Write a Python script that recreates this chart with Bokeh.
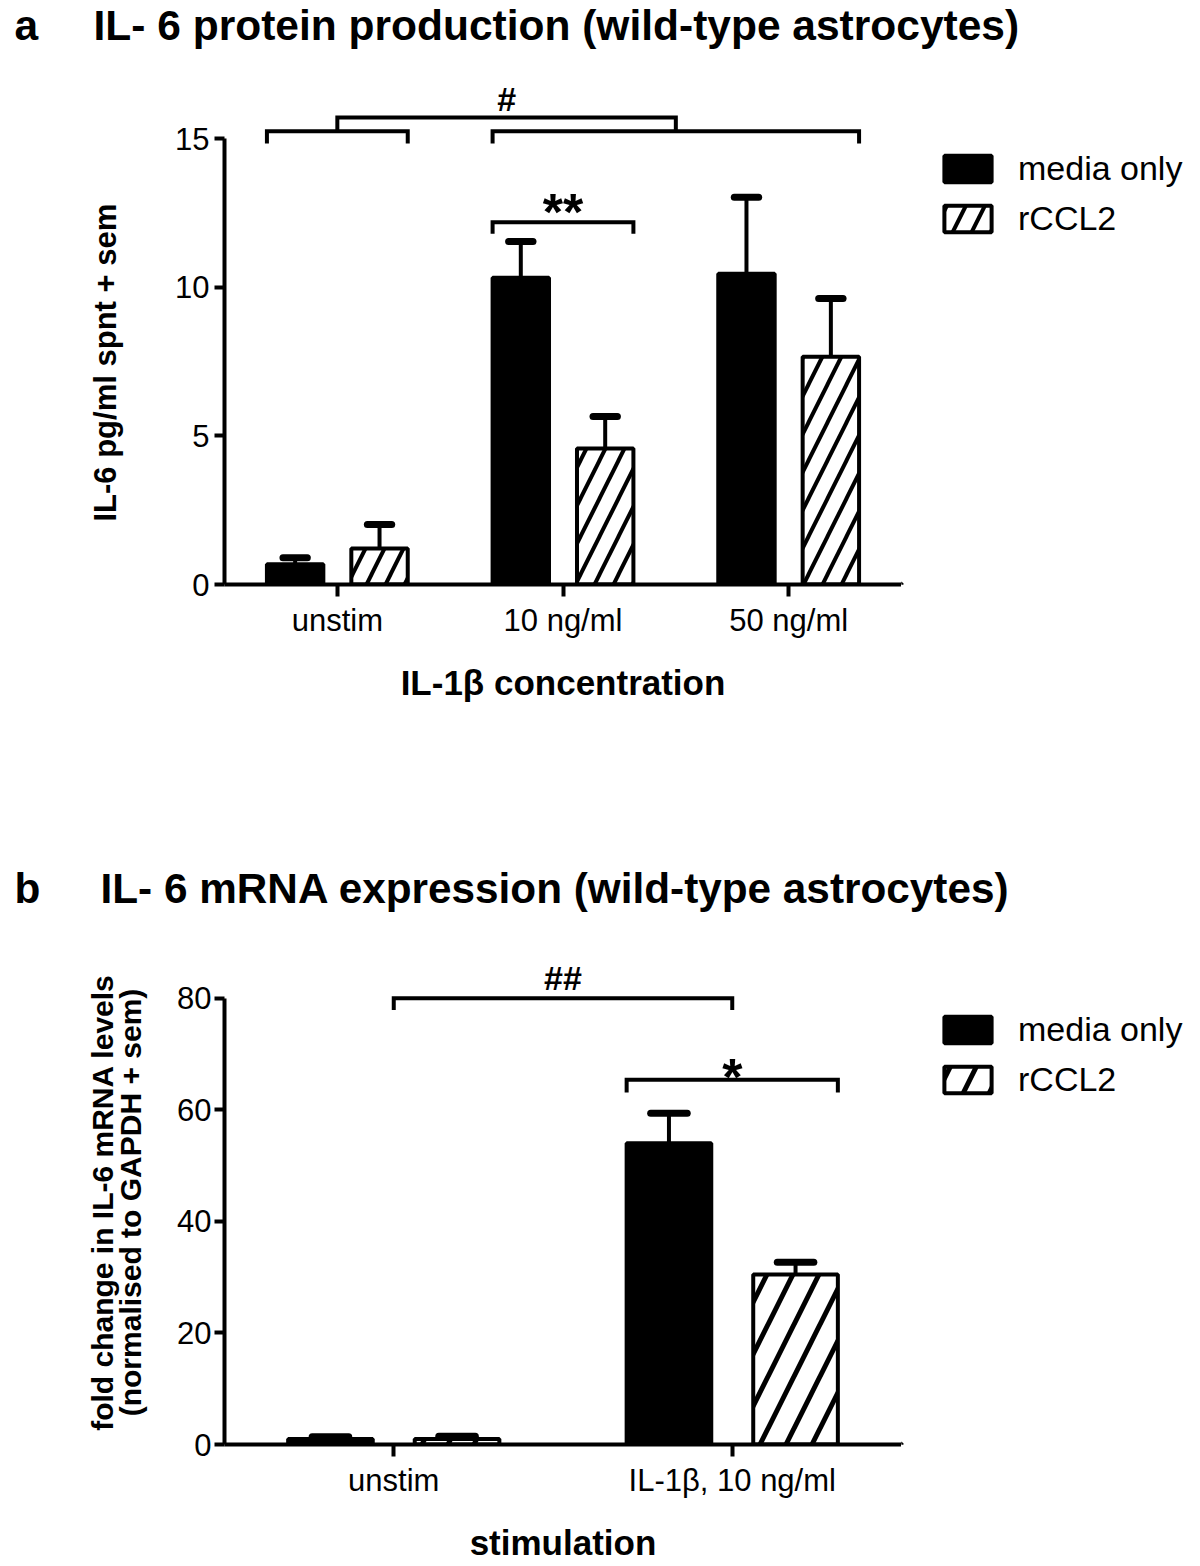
import math
from bokeh.plotting import figure
from bokeh.models import (Range1d, FactorRange, FixedTicker, ColumnDataSource, Label,
                          Legend, LegendItem)
from bokeh.transform import dodge
from bokeh.layouts import column, row
from bokeh.embed import file_html
from bokeh.resources import INLINE
from bokeh.core.properties import value

FONT = "Liberation Sans"
NB = "\u00a0"

# ---------------- data: panel a ----------------
a_title = "IL- 6 protein production (wild-type astrocytes)"
a_cats = ["unstim", "10 ng/ml", "50 ng/ml"]
a_media = [0.68, 10.32, 10.45]
a_media_sem = [0.22, 1.22, 2.57]
a_rccl2 = [1.21, 4.57, 7.66]
a_rccl2_sem = [0.81, 1.08, 1.96]
a_yticks = [0, 5, 10, 15]
a_ylabel = "IL-6 pg/ml spnt + sem"
a_xlabel = "IL-1β concentration"

# ---------------- data: panel b ----------------
b_title = "IL- 6 mRNA expression (wild-type astrocytes)"
b_cats = ["unstim", "IL-1β, 10 ng/ml"]
b_media = [1.0, 54.0]
b_media_sem = [0.4, 5.4]
b_rccl2 = [1.0, 30.5]
b_rccl2_sem = [0.5, 2.2]
b_yticks = [0, 20, 40, 60, 80]
b_ylabel = ["fold change in IL-6 mRNA levels", "(normalised to GAPDH + sem)"]
b_xlabel = "stimulation"

series = ["media only", "rCCL2"]

# significance marks
a_sig_hash = "#"
a_sig_star = "**"
b_sig_hash = "##"
b_sig_star = "*"

OFF = 0.187   # dodge of each series from category centre
W = 0.25      # bar width
CAP = 0.054   # half width of error caps
SHIFT = 0.35  # baseline correction (fraction of font size)


def blank_fig(width, height):
    p = figure(width=width, height=height, x_range=Range1d(0, width),
               y_range=Range1d(0, height), output_backend="svg",
               toolbar_location=None, x_axis_type=None, y_axis_type=None, min_border=0,
               min_border_left=0, min_border_right=0, min_border_top=0,
               min_border_bottom=0)
    p.outline_line_color = None
    p.background_fill_color = "white"
    p.border_fill_color = "white"
    return p


def style_axes(p, yticks, y_standoff):
    p.xgrid.visible = False
    p.ygrid.visible = False
    p.outline_line_color = None
    p.background_fill_color = "white"
    p.border_fill_color = "white"
    for ax in (p.xaxis[0], p.yaxis[0]):
        ax.axis_line_width = 4
        ax.axis_line_color = "black"
        ax.major_tick_line_width = 4
        ax.major_tick_line_color = "black"
        ax.major_tick_in = 0
        ax.minor_tick_line_color = None
        ax.major_label_text_font = FONT
        ax.major_label_text_font_size = "31px"
        ax.major_label_text_color = "black"
        ax.axis_label_text_font = FONT
        ax.axis_label_text_font_style = "bold"
        ax.axis_label_text_color = "black"
    p.yaxis.major_tick_out = 10
    p.yaxis.major_label_standoff = y_standoff
    p.xaxis.major_tick_out = 12
    p.xaxis.major_label_standoff = 6
    p.yaxis.ticker = FixedTicker(ticks=yticks)
    p.yaxis.bounds = (0, yticks[-1])


def bar_styles(hatch_scale, hatch_weight):
    solid = dict(fill_color="black", line_color="black", line_width=4)
    hatch = dict(fill_color="white", line_color="black", line_width=4,
                 hatch_pattern="/", hatch_color="black", hatch_scale=hatch_scale,
                 hatch_weight=hatch_weight)
    return solid, hatch


def draw_bars(p, cats, media, media_sem, rccl2, rccl2_sem, styles):
    for vals, sems, off, st in ((media, media_sem, -OFF, styles[0]),
                                (rccl2, rccl2_sem, OFF, styles[1])):
        src = ColumnDataSource(dict(cat=cats, val=vals,
                                    top=[v + s for v, s in zip(vals, sems)]))
        p.segment(x0=dodge("cat", off, range=p.x_range), y0="val",
                  x1=dodge("cat", off, range=p.x_range), y1="top",
                  source=src, line_color="black", line_width=4)
        p.segment(x0=dodge("cat", off - CAP, range=p.x_range), y0="top",
                  x1=dodge("cat", off + CAP, range=p.x_range), y1="top",
                  source=src, line_color="black", line_width=7, line_cap="round")
        p.vbar(x=dodge("cat", off, range=p.x_range), top="val", width=W, source=src, **st)


def bracket(p, x0, x1, y, drop):
    p.multi_line(xs=[[x0, x0, x1, x1]], ys=[[y - drop, y, y, y - drop]],
                 line_color="black", line_width=4, line_join="miter")


def add_text(p, x, y, txt, size, extra=0):
    p.text(x=[x], y=[y], text=[txt], text_font=value(FONT), text_font_style="bold",
           text_font_size=f"{size}px", text_align="center", text_baseline="alphabetic",
           text_color="black", y_offset=-SHIFT * size - extra)


def legend_fig(width, height, styles, lx, ly):
    p = blank_fig(width, height)
    # key swatches for the legend (drawn outside the visible area)
    r1 = p.vbar(x=[-1000], top=[1], width=1, **styles[0])
    r2 = p.vbar(x=[-1000], top=[1], width=1, **styles[1])
    legend = Legend(items=[LegendItem(label=value(series[0]), renderers=[r1]),
                           LegendItem(label=value(series[1]), renderers=[r2])],
                    location=(lx, ly), orientation="vertical",
                    glyph_width=59, glyph_height=33,
                    label_text_font=FONT, label_text_font_size="34px",
                    label_text_color="black", label_standoff=21, spacing=11,
                    padding=0, margin=0, border_line_color=None,
                    background_fill_alpha=0)
    p.add_layout(legend)
    return p


def title_fig(width, height, letter, txt, baseline_from_bottom, title_x, size):
    p = blank_fig(width, height)
    for x, t in ((14, letter), (title_x, txt)):
        p.add_layout(Label(x=x, y=baseline_from_bottom + SHIFT * size, x_units="screen",
                           y_units="screen", text=t, text_font=FONT,
                           text_font_size=f"{size}px", text_font_style="bold",
                           text_baseline="alphabetic", text_color="black"))
    return p


def edges(i):
    c = i + 0.5
    return c - OFF - W / 2, c + OFF + W / 2


# ---------------- panel a ----------------
A_PX = 446 / 15.0
styles_a = bar_styles(38, 4)
ta = title_fig(1200, 80, "a", a_title, 40, 93, 42.5)

pa = figure(width=901, height=640, x_range=FactorRange(factors=a_cats),
            y_range=Range1d(0, 504 / A_PX), output_backend="svg", toolbar_location=None,
            min_border_left=224, min_border_right=0, min_border_top=0,
            min_border_bottom=136)
style_axes(pa, a_yticks, 5)
draw_bars(pa, a_cats, a_media, a_media_sem, a_rccl2, a_rccl2_sem, styles_a)

l0, r0 = edges(0)
l1, _ = edges(1)
_, r2 = edges(2)
bracket(pa, l0, r0, 15.24, 0.41)
bracket(pa, l1, r2, 15.24, 0.41)
bracket(pa, (l0 + r0) / 2, (l1 + r2) / 2, 15.71, 0.47)
add_text(pa, ((l0 + r0) / 2 + (l1 + r2) / 2) / 2, (584 - 110) / A_PX, a_sig_hash, 34)
l1, r1 = edges(1)
bracket(pa, l1, r1, 12.18, 0.38)
add_text(pa, 1.5, (584 - 234) / A_PX, a_sig_star, 52, extra=4)

pa.yaxis.axis_label = a_ylabel + NB * 7
pa.yaxis.axis_label_text_font_size = "31px"
pa.yaxis.axis_label_standoff = 49
pa.xaxis.axis_label = a_xlabel
pa.xaxis.axis_label_text_font_size = "35px"
pa.xaxis.axis_label_standoff = 22

la = legend_fig(299, 640, styles_a, 37, 346)

# ---------------- panel b ----------------
B_PX = 448 / 80.0
styles_b = bar_styles(52, 5)
tb = title_fig(1200, 240, "b", b_title, 57, 100, 42.3)

pb = figure(width=901, height=604, x_range=FactorRange(factors=b_cats),
            y_range=Range1d(0, 486 / B_PX), output_backend="svg", toolbar_location=None,
            min_border_left=224, min_border_right=0, min_border_top=0,
            min_border_bottom=118)
style_axes(pb, b_yticks, 3)
draw_bars(pb, b_cats, b_media, b_media_sem, b_rccl2, b_rccl2_sem, styles_b)

bracket(pb, 0.5, 1.5, 80.0, 2.1)
add_text(pb, 1.0, (1446 - 990) / B_PX, b_sig_hash, 34)
l1, r1 = edges(1)
bracket(pb, l1, r1, 65.4, 2.3)
add_text(pb, 1.5, (1446 - 1092) / B_PX, b_sig_star, 52, extra=-3)

pb.yaxis.axis_label = "\n".join(b_ylabel)
pb.yaxis.axis_label_text_font_size = "30px"
pb.yaxis.axis_label_text_line_height = 0.85
pb.yaxis.axis_label_standoff = 27
pb.xaxis.axis_label = b_xlabel
pb.xaxis.axis_label_text_font_size = "35px"
pb.xaxis.axis_label_standoff = 22

lb = legend_fig(299, 604, styles_b, 37, 345)

layout = column(ta, row(pa, la), tb, row(pb, lb))
open("out.html", "w").write(file_html(layout, INLINE))
